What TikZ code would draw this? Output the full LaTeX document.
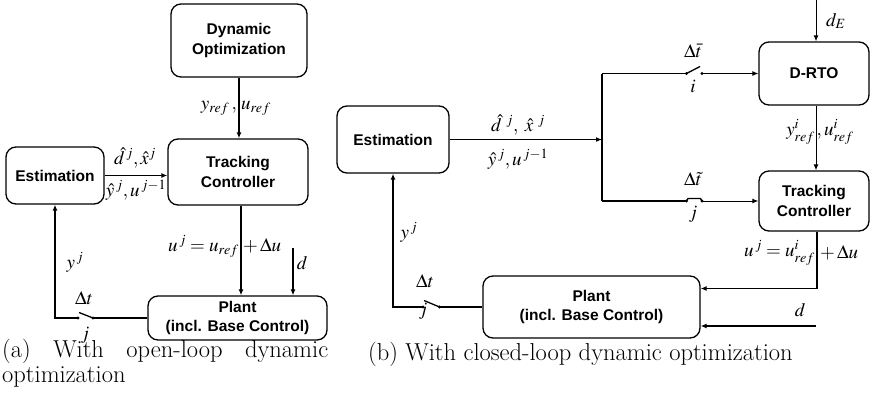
\documentclass[tikz,border=0pt]{standalone}
\usepackage{mathptmx}
\usepackage{fontspec}
\renewcommand{\rmdefault}{lmr}
\setsansfont{Liberation Sans}
\usetikzlibrary{arrows.meta,calc}
\begin{document}
\begin{tikzpicture}[x=1pt,y=-1pt,
  box/.style={draw,line width=1.3pt,rounded corners=10pt,align=center,inner sep=0pt,
    font=\sffamily\bfseries\fontsize{15.5}{19.5}\selectfont},
  wire/.style={line width=1.3pt},
  arr/.style={wire,-{Latex[length=6pt,width=5pt]}},
  lab/.style={font=\fontsize{19}{22}\selectfont,inner sep=0pt},
  sw/.style={circle,fill,inner sep=0pt,minimum size=3.2pt},
  captxt/.style={font=\fontsize{24.5}{29}\selectfont,inner sep=0pt}]
\useasboundingbox (0,0) rectangle (870,399);

% ---------------- panel (a) ----------------
\node[box,minimum width=136pt,minimum height=73pt] (do) at (239,40.5) {Dynamic\\Optimization};
\node[box,minimum width=140pt,minimum height=66pt] (tc) at (238,172) {Tracking\\Controller};
\node[box,minimum width=98pt,minimum height=57pt] (est) at (55,175.5) {Estimation};
\node[box,minimum width=179pt,minimum height=44pt] (pl) at (237.5,318) {Plant\\(incl. Base Control)};

\draw[arr] (do.south) -- (do.south |- tc.north);
\draw[arr] (est.east) -- (est.east -| tc.west);
\draw[arr] ([xshift=3pt]tc.south) -- ([xshift=3pt]tc.south |- pl.north);
\coordinate (da) at (293,248);
\draw[arr] (da) -- (da |- pl.north);

\node[sw] (sa1) at (78,318) {};
\node[sw] (sa2) at (93,318) {};
\draw[wire] (pl.west) -- (sa2.center);
\draw[wire] (sa2.center) -- (79,312.5);
\draw[arr] (sa1.center) -| (est.south);

\node[lab,anchor=east] at (237,108) {$y_{ref}\,,$};
\node[lab,anchor=west] at (241,108) {$u_{ref}$};
\node[lab] at (135,158) {$\hat{d}^{\,j},\hat{x}^{j}$};
\node[lab] at (136,190) {$\hat{y}^{\,j},u^{\,j-1}$};
\node[lab,anchor=east] at (239,246) {$u^{\,j}=u_{ref}$};
\node[lab,anchor=west] at (243,246) {$+\,\Delta u$};
\node[lab] at (75,262) {$y^{\,j}$};
\node[lab] at (302,263) {$d$};
\node[lab] at (84,298) {$\Delta t$};
\node[lab] at (85,335) {$j$};

% ---------------- panel (b) ----------------
\node[box,minimum width=112pt,minimum height=67pt] (estb) at (393,139.5) {Estimation};
\node[box,minimum width=110pt,minimum height=63pt] (drto) at (814,73.5) {D-RTO};
\node[box,minimum width=110pt,minimum height=60pt] (tcb) at (814,201) {Tracking\\Controller};
\node[box,minimum width=217pt,minimum height=62pt] (plb) at (591.5,307) {Plant\\(incl. Base Control)};

\coordinate (jn) at (602,139.5);
\coordinate (jt) at (jn |- drto.west);
\coordinate (jb) at (jn |- tcb.west);
\draw[arr] (estb.east) -- (jn);
\draw[wire] (jt) -- (jb);

% top switch
\node[sw] (st1) at (686.5,73.5) {};
\node[sw] (st2) at (702,73.5) {};
\draw[wire] (jt) -- (st1.center);
\draw[wire] (st1.center) -- (700,66.5);
\draw[arr,line width=1pt] (st2.center) -- (drto.west);

% bottom switch
\node[sw] (sb1) at (686.5,201) {};
\node[sw] (sb2) at (702,201) {};
\draw[wire] (jb) -- (sb1.center);
\draw[wire] (sb1.center) -- ++(1.5,-2.5) -- ($(sb2.center)+(-1.5,-2.5)$) -- (sb2.center);
\draw[arr,line width=1pt] (sb2.center) -- (tcb.west);

% d_E
\coordinate (de) at (816,0);
\draw[arr,line width=1pt] (de) -- (de |- drto.north);
\draw[arr,line width=1pt] (de |- drto.south) -- (de |- tcb.north);

% controller to plant
\draw[arr] ([xshift=3pt]tcb.south) |- ([yshift=18.5pt]plb.east);
\coordinate (db) at (816,326);
\draw[arr] (db) -- (db -| plb.east);

% feedback
\node[sw] (sf1) at (423,307) {};
\node[sw] (sf2) at (439.5,307) {};
\draw[wire] (plb.west) -- (sf2.center);
\draw[wire] (sf2.center) -- (424,300.5);
\draw[arr] (sf1.center) -| (estb.south);

\node[lab] at (836,21) {$d_{E}$};
\node[lab] at (693,51) {$\Delta\bar{t}$};
\node[lab] at (693,86) {$i$};
\node[lab] at (693,179) {$\Delta\tilde{t}$};
\node[lab] at (693,214) {$j$};
\node[lab] at (518,125) {$\hat{d}^{\;\,j},\;\hat{x}^{\;\,j}$};
\node[lab] at (518,159) {$\hat{y}^{\,j},u^{\,j-1}$};
\node[lab,anchor=east] at (815,132) {$y^{i}_{ref}$};
\node[lab,anchor=west] at (816.5,132) {$,u^{i}_{ref}$};
\node[lab,anchor=east] at (815,253) {$u^{\,j}=u^{i}_{ref}$};
\node[lab,anchor=west] at (820,253) {$+\,\Delta u$};
\node[lab] at (800,310) {$d$};
\node[lab] at (425,281) {$\Delta t$};
\node[lab] at (423,311) {$j$};
\node[lab] at (409,232) {$y^{\,j}$};

% captions
\node[captxt,anchor=base west] (capa1) at (2,357) {\hbox to 326pt{(a)\hfill With\hfill open-loop\hfill dynamic}};
\node[captxt,anchor=base west] (capa2) at (2,382) {optimization};
\node[captxt,anchor=base west] (capb) at (368,360) {(b) With closed-loop dynamic optimization};
\end{tikzpicture}
\end{document}
